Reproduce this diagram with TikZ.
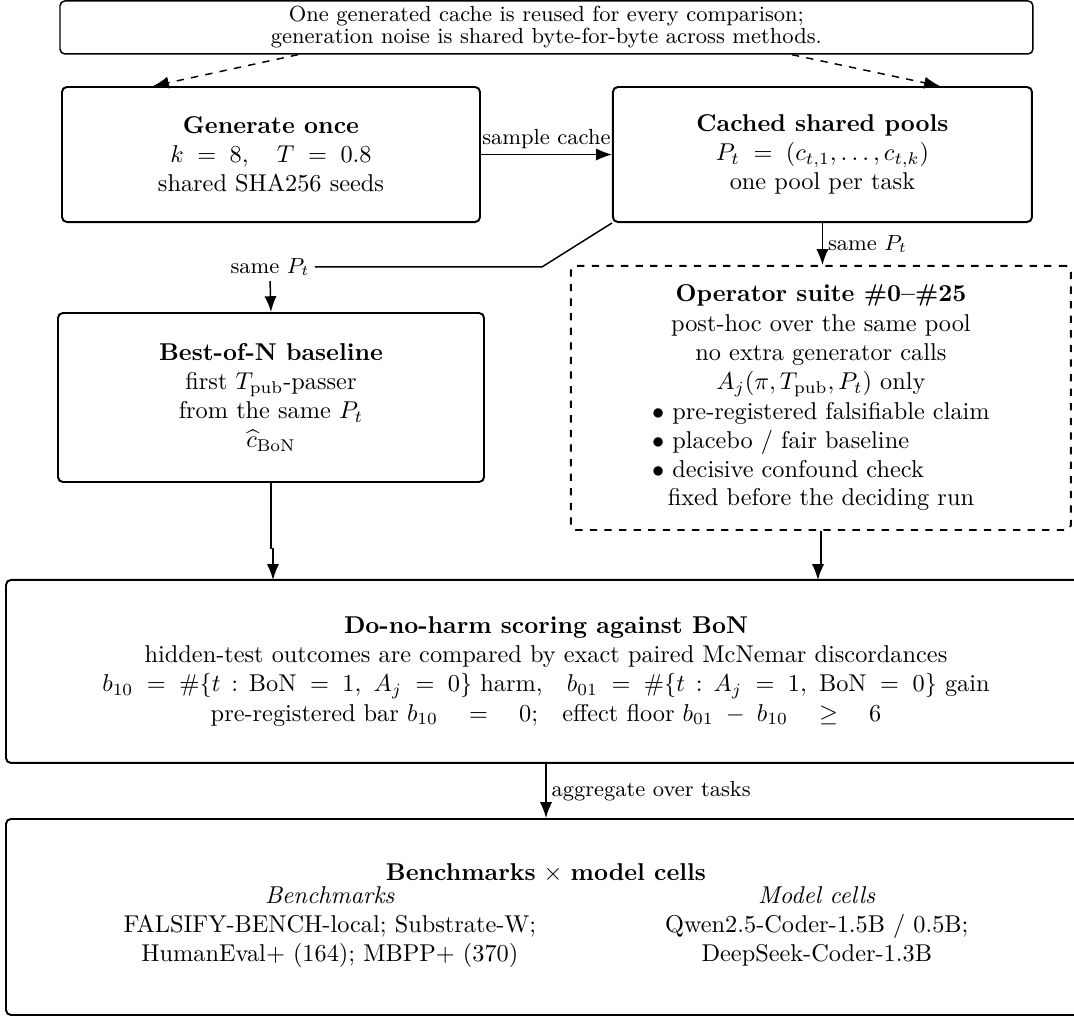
\documentclass[tikz,border=0pt]{standalone}
\usepackage{amssymb,amsmath}
\usepackage{tikz}
\usetikzlibrary{arrows.meta,calc}

\begin{document}
\begin{tikzpicture}[join=round,
        box/.style={draw,thick,rounded corners=2pt,align=center,inner sep=2pt},
        arr/.style={-{Latex[length=6.5pt,width=5pt]},semithick},
        lbl/.style={font=\small,inner sep=2pt}]
        \useasboundingbox (0,0) rectangle (15.52,-14.725);
        % header note
        \node[box,semithick,minimum width=14.06cm,minimum height=0.766cm,font=\small] (note) at (7.897,-0.397)
                {One generated cache is reused for every comparison;\\[-2pt]
                 generation noise is shared byte-for-byte across methods.};
        % top row
        \node[box,minimum width=6.04cm,minimum height=1.951cm] (gen) at (3.916,-2.233)
                {\textbf{Generate once}\\ $k \;=\; 8,\quad T \;=\; 0.8$\\ shared SHA256 seeds};
        \node[box,minimum width=6.055cm,minimum height=1.951cm] (pool) at (11.885,-2.233)
                {\textbf{Cached shared pools}\\ $P_t \;=\; (c_{t,1},\ldots,c_{t,k})$\\ one pool per task};
        % middle row
        \node[box,minimum width=6.156cm,minimum height=2.442cm] (bon) at (3.916,-5.744)
                {\textbf{Best-of-N baseline}\\ first $T_{\mathrm{pub}}$-passer\\ from the same $P_t$\\ $\widehat{c}_{\mathrm{BoN}}$};
        \node[box,dashed,minimum width=7.225cm,minimum height=3.815cm] (ops) at (11.863,-5.751)
                {\textbf{Operator suite \#0--\#25}\\ post-hoc over the same pool\\ no extra generator calls\\
                 $A_j(\pi, T_{\mathrm{pub}}, P_t)$ only\\
                 \begin{tabular}{@{}l@{}}
                 $\bullet$ pre-registered falsifiable claim\\
                 $\bullet$ placebo / fair baseline\\
                 $\bullet$ decisive confound check
                 \end{tabular}\\
                 fixed before the deciding run};
        % scoring and cells
        \node[box,minimum width=15.606cm,minimum height=2.644cm] (score) at (7.890,-9.703)
                {\textbf{Do-no-harm scoring against BoN}\\
                 hidden-test outcomes are compared by exact paired McNemar discordances\\
                 $b_{10} \;=\; \#\{t \,:\, \mathrm{BoN} \;=\; 1,\ A_j \;=\; 0\}$ harm,\quad
                 $b_{01} \;=\; \#\{t \,:\, A_j \;=\; 1,\ \mathrm{BoN} \;=\; 0\}$ gain\\
                 pre-registered bar $b_{10} \quad=\quad 0$;\quad effect floor $b_{01} \;-\; b_{10} \quad\geq\quad 6$};
        \node[box,minimum width=15.606cm,minimum height=2.832cm] (bench) at (7.890,-13.251)
                {\textbf{Benchmarks} $\times$ \textbf{model cells}\\[-1pt]
                 \begin{tabular}{@{}c@{\hspace{53pt}}c@{}}
                 \textit{Benchmarks} & \textit{Model cells}\\
                 FALSIFY-BENCH-local; Substrate-W; & Qwen2.5-Coder-1.5B / 0.5B;\\
                 HumanEval+ (164); MBPP+ (370) & DeepSeek-Coder-1.3B
                 \end{tabular}};
        % routing points
        \coordinate (bend) at (7.832,-3.858);
        \node[lbl] (samel) at (3.902,-3.858) {same $P_t$};
        \coordinate (bonin) at (3.945,-8.381);
        \coordinate (opsin) at (11.820,-8.381);
        % connectors
        \draw[arr,dashed] ($(note.south)+(-3.591,0)$) -- ($(gen.north)+(-1.705,0)$);
        \draw[arr,dashed] ($(note.south)+(3.547,0)$) -- ($(pool.north)+(1.698,0)$);
        \draw[arr] (gen) -- node[lbl,above] {sample cache} (pool);
        \draw[semithick] (pool.south west) -- (bend) -- (samel.east);
        \draw[arr] (samel.south) -- (bon.north);
        \draw[arr] (pool.south) -- node[lbl,right] {same $P_t$} (pool.south |- ops.north);
        \draw[arr] (bon.south) -- ++(0,-0.945) -| (bonin);
        \draw[arr] (ops.south) -- ++(0,-0.55) -| (opsin);
        \draw[arr] (score.south) -- node[lbl,right] {aggregate over tasks} (bench.north);
\end{tikzpicture}
\end{document}
